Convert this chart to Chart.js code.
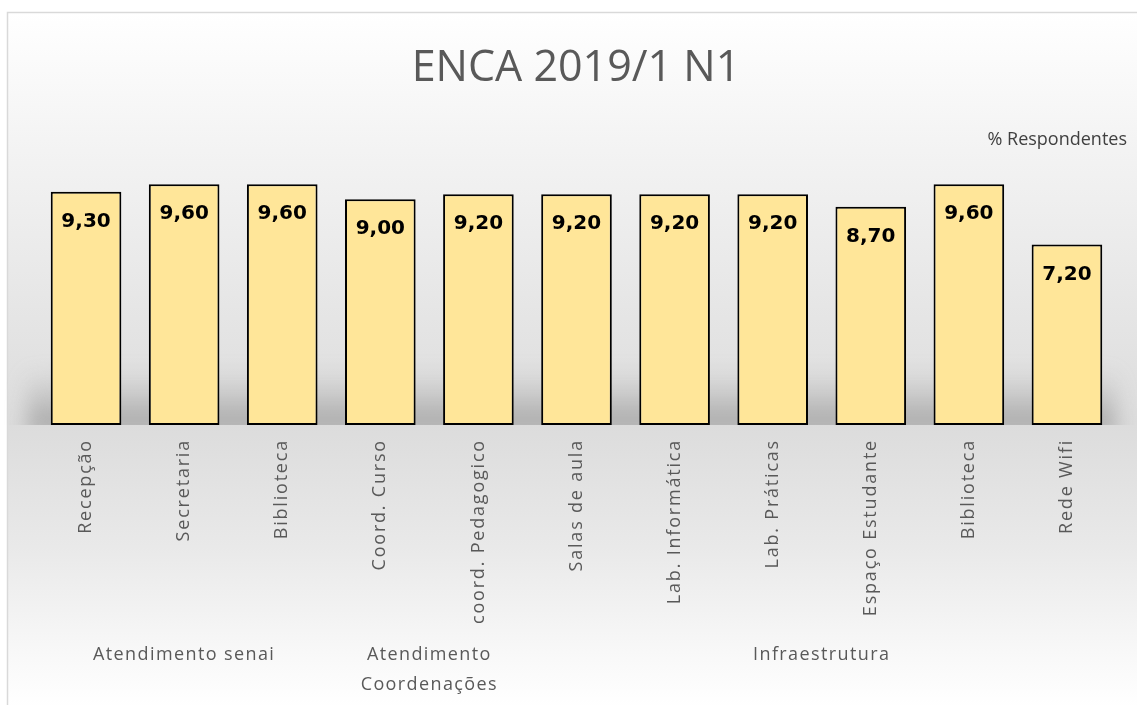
<!DOCTYPE html>
<html lang="pt-BR">
<head>
<meta charset="utf-8">
<title>ENCA 2019/1 N1</title>
<script src="https://cdn.jsdelivr.net/npm/chart.js@4.4.1/dist/chart.umd.min.js"></script>
<style>
  html, body { margin: 0; padding: 0; background: #fff; overflow: hidden; }
</style>
</head>
<body>
<canvas id="encaChart" width="1137" height="707"></canvas>
<script>
// Dados
const categorias = ['Recepção', 'Secretaria', 'Biblioteca', 'Coord. Curso', 'coord. Pedagogico',
    'Salas de aula', 'Lab. Informática', 'Lab. Práticas', 'Espaço Estudante', 'Biblioteca', 'Rede Wifi'];
const notas = [9.30, 9.60, 9.60, 9.00, 9.20, 9.20, 9.20, 9.20, 8.70, 9.60, 7.20];
const grupos = [['Atendimento senai'], ['Atendimento', 'Coordenações'], ['Infraestrutura']];
const gruposInicio = [0, 3, 5];
const gruposFim = [2, 4, 10];

const corTexto = '#595959';

// Fundo em degradê + moldura
const fundoPlugin = {
    id: 'fundo',
    beforeDraw(chart) {
        const { ctx, width, height } = chart;
        ctx.save();
        const g = ctx.createLinearGradient(0, 12, 0, height);
        g.addColorStop(0, '#ffffff');
        g.addColorStop(0.2, '#f3f3f3');
        g.addColorStop(0.594, '#dcdcdc');
        g.addColorStop(0.77, '#e9e9e9');
        g.addColorStop(0.92, '#f8f8f8');
        g.addColorStop(1, '#ffffff');
        ctx.fillStyle = '#ffffff';
        ctx.fillRect(0, 0, width, height);
        ctx.fillStyle = g;
        ctx.fillRect(7, 12, width - 7, height - 12);
        ctx.strokeStyle = '#d9d9d9';
        ctx.lineWidth = 1.5;
        ctx.beginPath();
        ctx.moveTo(7.5, height - 2);
        ctx.lineTo(7.5, 12.5);
        ctx.lineTo(width, 12.5);
        ctx.stroke();
        ctx.restore();

        // rótulos do eixo x com espaçamento entre letras
        const sx = chart.scales.x;
        if (!sx._espacado) {
            const desenhar = sx.drawLabels.bind(sx);
            sx.drawLabels = function (area) {
                chart.ctx.save();
                chart.ctx.letterSpacing = '1.8px';
                desenhar(area);
                chart.ctx.restore();
            };
            sx._espacado = true;
        }
    },
    beforeDatasetsDraw(chart) {
        // sombra do "piso" atrás das barras
        const { ctx, chartArea } = chart;
        ctx.save();
        ctx.beginPath();
        ctx.rect(0, 0, chart.width, chartArea.bottom);
        ctx.clip();
        ctx.filter = 'blur(10px)';
        const g = ctx.createLinearGradient(0, chartArea.bottom - 55, 0, chartArea.bottom);
        g.addColorStop(0, 'rgba(160,160,160,0)');
        g.addColorStop(1, 'rgba(150,150,150,0.7)');
        ctx.fillStyle = g;
        ctx.fillRect(chartArea.left - 10, chartArea.bottom - 55, chartArea.width + 10, 65);
        ctx.restore();
    }
};

// Valores dentro das barras
const rotulosPlugin = {
    id: 'rotulos',
    afterDatasetsDraw(chart) {
        const { ctx } = chart;
        const meta = chart.getDatasetMeta(0);
        ctx.save();
        ctx.font = 'bold 20px "DejaVu Sans"';
        ctx.fillStyle = '#000000';
        ctx.textAlign = 'center';
        ctx.textBaseline = 'middle';
        meta.data.forEach((bar, i) => {
            const v = chart.data.datasets[0].data[i];
            ctx.fillText(v.toFixed(2).replace('.', ','), bar.x, bar.y + 30);
        });
        ctx.restore();
    }
};

// Rótulos dos grupos abaixo do eixo
const gruposPlugin = {
    id: 'grupos',
    afterDraw(chart) {
        const { ctx } = chart;
        const x = chart.scales.x;
        ctx.save();
        ctx.font = '18px "Open Sans"';
        ctx.letterSpacing = '1.4px';
        ctx.fillStyle = corTexto;
        ctx.textAlign = 'center';
        ctx.textBaseline = 'middle';
        grupos.forEach((linhas, i) => {
            const cx = (x.getPixelForValue(gruposInicio[i]) + x.getPixelForValue(gruposFim[i])) / 2;
            linhas.forEach((t, j) => ctx.fillText(t, cx, 655 + j * 30));
        });
        ctx.restore();
    }
};

const ctx = document.getElementById('encaChart').getContext('2d');
new Chart(ctx, {
    type: 'bar',
    data: {
        labels: categorias,
        datasets: [{
            label: '% Respondentes',
            data: notas,
            backgroundColor: '#FFE699',
            borderColor: '#000000',
            borderWidth: 2,
            borderSkipped: false,
            categoryPercentage: 1,
            barPercentage: 0.72
        }]
    },
    plugins: [fundoPlugin, rotulosPlugin, gruposPlugin],
    options: {
        responsive: false,
        animation: false,
        layout: { padding: { left: 15, right: 0, top: 0, bottom: 0 } },
        plugins: {
            title: {
                display: true,
                text: 'ENCA 2019/1 N1',
                color: corTexto,
                font: { family: '"Open Sans"', size: 43, weight: 'normal' },
                padding: { top: 43, bottom: 26 }
            },
            legend: {
                position: 'top',
                align: 'end',
                labels: {
                    boxWidth: 0,
                    boxHeight: 0,
                    padding: 10,
                    color: '#404040',
                    font: { family: '"Open Sans"', size: 18 }
                }
            },
            tooltip: { enabled: false }
        },
        scales: {
            x: {
                grid: { display: false, drawTicks: false },
                border: { display: false },
                ticks: {
                    autoSkip: false,
                    maxRotation: 90,
                    minRotation: 90,
                    padding: 14,
                    color: corTexto,
                    font: { family: '"Open Sans"', size: 18 }
                },
                afterFit(s) { s.height = 282; }
            },
            y: {
                min: 0,
                max: 10.62,
                grid: { display: false },
                border: { display: false },
                ticks: { display: false },
                afterFit(s) { s.width = 22; }
            },
            direita: {
                position: 'right',
                grid: { display: false },
                border: { display: false },
                ticks: { display: false },
                afterFit(s) { s.width = 21; }
            }
        }
    }
});
</script>
</body>
</html>
